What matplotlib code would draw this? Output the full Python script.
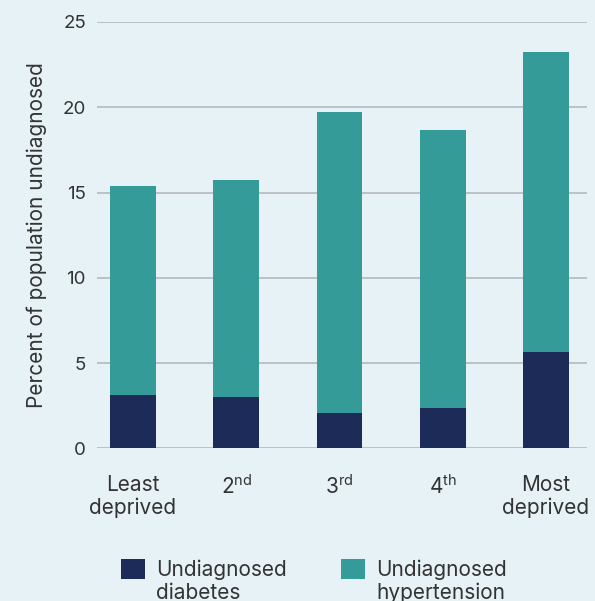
import numpy as np
import matplotlib
matplotlib.use("Agg")
import matplotlib.pyplot as plt
from matplotlib.patches import Rectangle
from matplotlib.legend_handler import HandlerPatch

# deprivation quintiles
groups = ["Least\ndeprived", "2$^{\\mathrm{nd}}$", "3$^{\\mathrm{rd}}$", "4$^{\\mathrm{th}}$", "Most\ndeprived"]
diabetes = [3.1, 3.0, 2.05, 2.35, 5.65]
hypertension = [12.3, 12.75, 17.7, 16.3, 17.6]
yticks = [0, 5, 10, 15, 20, 25]
series_names = ["Undiagnosed\ndiabetes", "Undiagnosed\nhypertension"]

bg = "#e7f2f7"
navy = "#1c2b57"
teal = "#359b99"
txt = "#333333"
FONT = "Inter"

plt.rcParams["font.family"] = [FONT, "DejaVu Sans"]
plt.rcParams["mathtext.fontset"] = "custom"
plt.rcParams["mathtext.rm"] = FONT

fig = plt.figure(figsize=(5.95, 6.01), dpi=100, facecolor=bg)
ax = fig.add_axes([97/595, 1 - 448.3/601, 490/595, 426.3/601], facecolor=bg)

x = np.arange(len(groups))
w = 0.445
b1 = ax.bar(x, diabetes, w, color=navy, zorder=3)
b2 = ax.bar(x, hypertension, w, bottom=diabetes, color=teal, zorder=3)

ax.set_xlim(-0.349, 4.397)
ax.set_ylim(0, 25)
ax.set_yticks(yticks)
ax.set_xticks(x)
ax.set_xticklabels(groups, fontsize=15, color=txt, linespacing=1.15)
ax.tick_params(axis="y", length=0, pad=8, labelsize=13.5, labelcolor=txt)
ax.tick_params(axis="x", length=0, pad=19)
ax.grid(axis="y", color="#b5b9bb", linewidth=1.2, zorder=0)
for s in ax.spines.values():
    s.set_visible(False)

ax.set_ylabel("Percent of population undiagnosed", fontsize=15, color=txt, labelpad=11)

# legend square sits level with first line of the label
def top_square(legend, orig_handle, xdescent, ydescent, width, height, fontsize):
    return Rectangle((-xdescent, -ydescent + 9.5), width, height)

fig.legend([b1.patches[0], b2.patches[0]], series_names,
           loc="upper left", bbox_to_anchor=(121/595, 1 - 559/601),
           ncol=2, frameon=False, fontsize=15, labelcolor=txt,
           handlelength=1.15, handleheight=1.15, handletextpad=0.53,
           columnspacing=2.6, borderpad=0, borderaxespad=0,
           handler_map={Rectangle: HandlerPatch(patch_func=top_square)})

fig.savefig("out.png", dpi=100, facecolor=bg)
